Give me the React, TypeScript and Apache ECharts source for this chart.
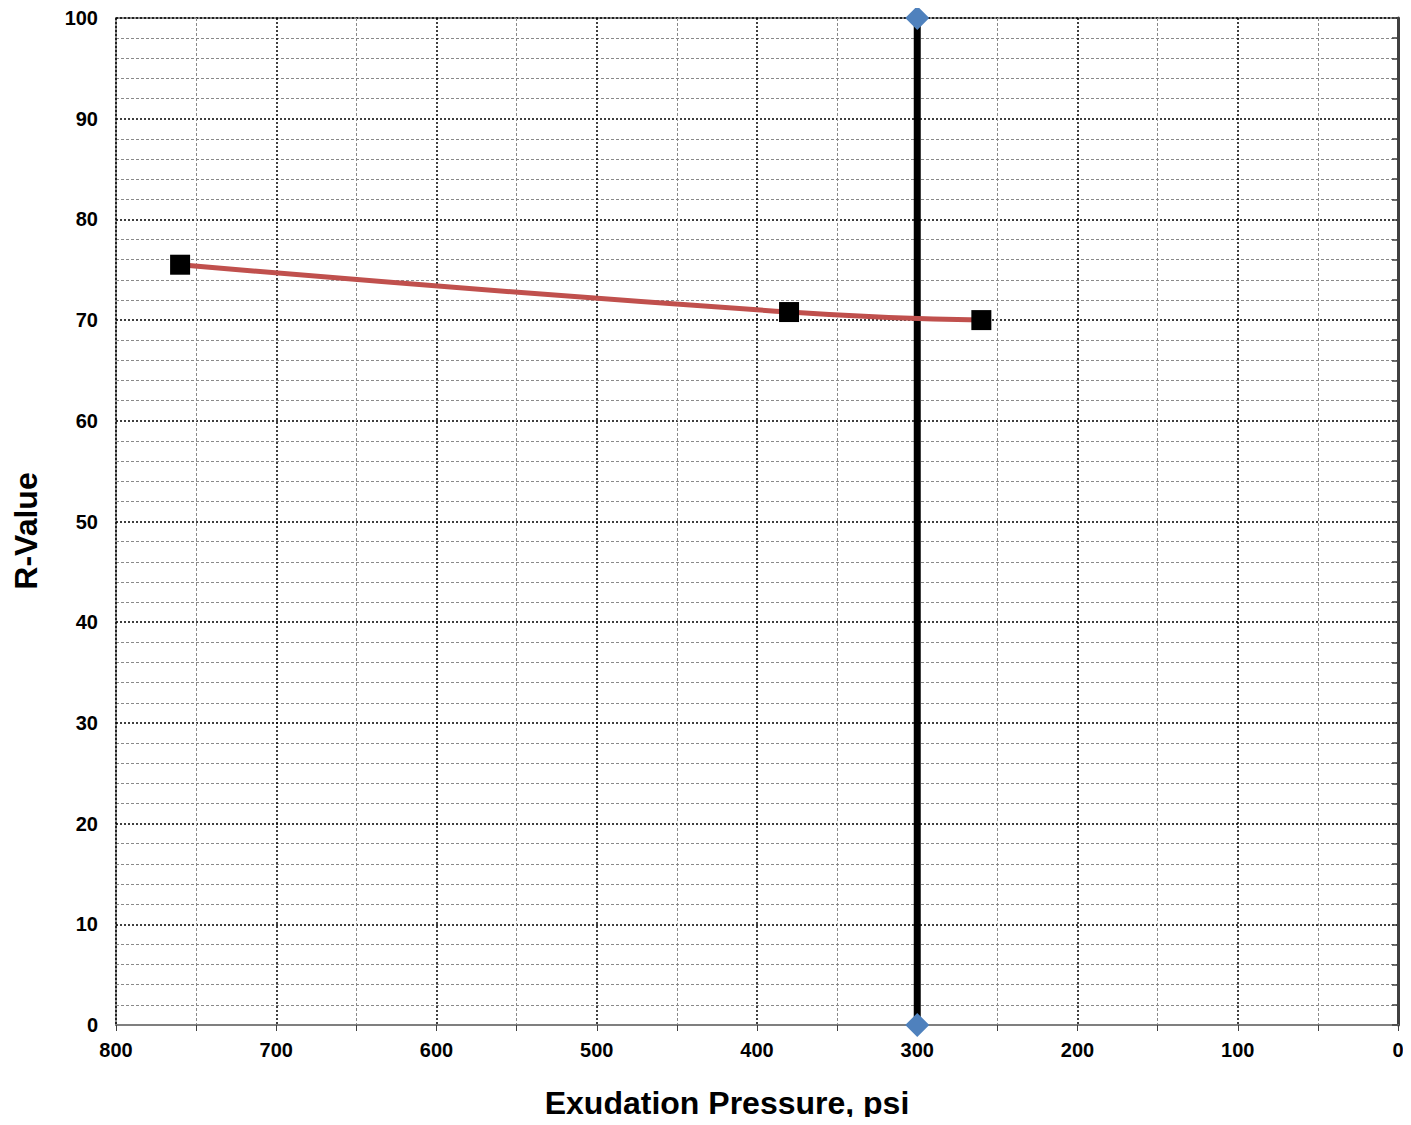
import React, { useEffect, useRef } from "react";
import * as echarts from "echarts";

const pressures = [760, 380, 260];
const rValues = [75.5, 70.8, 70.0];
const refPressure = [300, 300];
const refR = [0, 100];
const xName = "Exudation Pressure, psi";
const yName = "R-Value";

export default function App() {
  const ref = useRef<HTMLDivElement>(null);
  useEffect(() => {
    const chart = echarts.init(ref.current!, null, { renderer: "svg" });
    const font = "'Liberation Sans', Arial, sans-serif";
    chart.setOption({
      animation: false,
      grid: {
        left: 108,
        right: 5,
        top: 10,
        bottom: 100,
        show: true,
        borderColor: "#8c8c8c",
        borderWidth: 2,
        outerBoundsMode: "none",
        containLabel: false,
      },
      graphic: [
        {
          type: "text",
          x: 719,
          y: 1095,
          style: {
            text: xName,
            font: `bold 32px ${font}`,
            fill: "#000",
            align: "center",
            verticalAlign: "middle",
          },
        },
        {
          type: "text",
          x: 18,
          y: 523,
          rotation: Math.PI / 2,
          style: {
            text: yName,
            font: `bold 32px ${font}`,
            fill: "#000",
            align: "center",
            verticalAlign: "middle",
          },
        },
      ],
      xAxis: {
        type: "value",
        min: 0,
        max: 800,
        interval: 100,
        inverse: true,
        axisLine: { show: true, lineStyle: { color: "#7f7f7f", width: 2 } },
        axisTick: { show: true, length: 6, lineStyle: { color: "#404040", width: 1 } },
        minorTick: { show: true, splitNumber: 2, length: 6, lineStyle: { color: "#404040", width: 1 } },
        axisLabel: { fontFamily: font, fontWeight: "bold", fontSize: 20, color: "#000", margin: 15 },
        splitLine: { show: true, lineStyle: { color: "#000", type: [2, 2], width: 1.5 } },
        minorSplitLine: { show: true, lineStyle: { color: "#8a8a8a", type: [3, 2], width: 1 } },
      },
      yAxis: {
        type: "value",
        min: 0,
        max: 100,
        interval: 10,
        axisLine: { show: true, lineStyle: { color: "#404040", width: 3 } },
        axisTick: { show: true, length: 6, lineStyle: { color: "#404040", width: 1.5 } },
        minorTick: { show: true, splitNumber: 5, length: 6, lineStyle: { color: "#404040", width: 1.5 } },
        axisLabel: { fontFamily: font, fontWeight: "bold", fontSize: 20, color: "#000", margin: 18 },
        splitLine: { show: true, lineStyle: { color: "#000", type: [2, 2], width: 1.5 } },
        minorSplitLine: { show: true, lineStyle: { color: "#8a8a8a", type: [3, 2], width: 1 } },
      },
      series: [
        {
          type: "line",
          data: refPressure.map((p, i) => [p, refR[i]]),
          lineStyle: { color: "#000", width: 7 },
          symbol: "diamond",
          symbolSize: 24,
          itemStyle: { color: "#4F81BD" },
          z: 2,
        },
        {
          type: "line",
          data: pressures.map((p, i) => [p, rValues[i]]),
          smooth: 0.5,
          lineStyle: { color: "#C0504D", width: 5 },
          symbol: "rect",
          symbolSize: 20,
          itemStyle: { color: "#000" },
          z: 3,
        },
      ],
    });
    return () => chart.dispose();
  }, []);
  return <div ref={ref} style={{ width: 1395, height: 1117, marginBottom: -8 }} />;
}
